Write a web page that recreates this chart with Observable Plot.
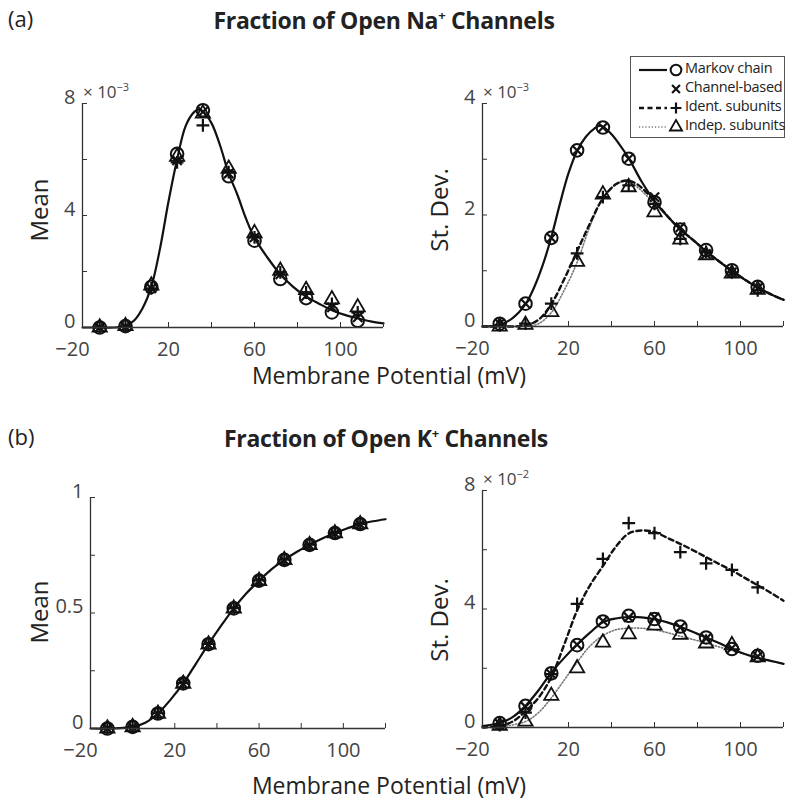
<!DOCTYPE html>
<html><head><meta charset="utf-8">
<script src="https://cdn.jsdelivr.net/npm/d3@7"></script>
<script src="https://cdn.jsdelivr.net/npm/@observablehq/plot@0.6"></script>
<style>
body{margin:0;background:#fff;}
#root{position:relative;width:800px;height:805px;background:#fff;font-family:"Open Sans","DejaVu Sans",sans-serif;color:#222;overflow:hidden;}
.t{position:absolute;white-space:nowrap;}
.panel{position:absolute;}
.title{font-weight:700;font-size:23px;letter-spacing:-0.3px;}
.lbl{font-size:23px;color:#222;}
.exp{font-size:17px;color:#444;}
.ylab{font-size:24px;transform:translate(-50%,-50%) rotate(-90deg);}
.panel svg text{font-size:20px;}
</style></head>
<body><div id="root">
<div class="t" style="left:8px;top:3px;font-size:22px;">(a)</div>
<div class="t title" style="left:0;width:768px;text-align:center;top:4px;">Fraction of Open Na<sup style="font-size:13px;">+</sup> Channels</div>
<div class="t" style="left:8px;top:421px;font-size:22px;">(b)</div>
<div class="t title" style="left:0;width:772px;text-align:center;top:422px;">Fraction of Open K<sup style="font-size:13px;">+</sup> Channels</div>
<div class="t lbl" style="left:0;width:778px;text-align:center;top:359px;">Membrane Potential (mV)</div>
<div class="t lbl" style="left:0;width:778px;text-align:center;top:769px;">Membrane Potential (mV)</div>
<div class="t ylab" style="left:38px;top:210px;">Mean</div>
<div class="t ylab" style="left:438px;top:210px;">St. Dev.</div>
<div class="t ylab" style="left:38px;top:612px;">Mean</div>
<div class="t ylab" style="left:438px;top:620px;">St. Dev.</div>
<div class="t exp" style="left:83px;top:79px;">× 10<sup style="font-size:11px;">−3</sup></div>
<div class="t exp" style="left:483px;top:79px;">× 10<sup style="font-size:11px;">−3</sup></div>
<div class="t exp" style="left:483px;top:466px;">× 10<sup style="font-size:11px;">−2</sup></div>
<div id="p1" class="panel" style="left:0;top:60px;"></div>
<div id="p2" class="panel" style="left:400px;top:60px;"></div>
<div id="p3" class="panel" style="left:0;top:470px;"></div>
<div id="p4" class="panel" style="left:400px;top:470px;"></div>
<div id="legend" class="t" style="left:630px;top:56px;width:153px;height:80px;border:1px solid #555;background:#fff;"></div>
</div>
<script>
// ---------- data ----------
const xPts = [-12, 0, 12, 24, 36, 48, 60, 72, 84, 96, 108];

// (a) Na mean (x 1e-3)
const naMeanMarkov  = [0, 0.05, 1.45, 6.2, 7.76, 5.4, 3.1, 1.73, 1.05, 0.54, 0.24];
const naMeanChannel = [0, 0.03, 1.4, 5.97, 7.7, 5.5, 3.22, 1.9, 1.13, 0.72, 0.36];
const naMeanIdent   = [0, 0.03, 1.4, 5.9, 7.22, 5.55, 3.22, 1.97, 1.25, 0.84, 0.54];
const naMeanIndep   = [0, 0.05, 1.5, 6.1, 7.64, 5.67, 3.37, 2.03, 1.34, 1.01, 0.72];
const naMeanCurveX  = [-20, -12, -5, 0, 4, 8, 12, 16, 20, 24, 28, 32, 34, 36, 40, 44, 48, 52, 56, 60, 66, 72, 78, 84, 90, 96, 102, 108, 114, 120];
const naMeanCurveY  = [0, 0, 0, 0.05, 0.25, 0.7, 1.45, 2.8, 4.5, 6.0, 7.2, 7.7, 7.78, 7.72, 7.3, 6.5, 5.5, 4.75, 3.9, 3.2, 2.5, 1.9, 1.45, 1.1, 0.85, 0.62, 0.45, 0.33, 0.22, 0.15];

// (a) Na st. dev. (x 1e-3)
const naSdMarkov  = [0.05, 0.41, 1.59, 3.16, 3.57, 3.01, 2.23, 1.74, 1.37, 1.01, 0.71];
const naSdChannel = [0.05, 0.41, 1.59, 3.16, 3.57, 3.01, 2.32, 1.78, 1.30, 0.97, 0.69];
const naSdIdent   = [0.02, 0.05, 0.41, 1.31, 2.32, 2.53, 2.2, 1.57, 1.34, 0.97, 0.65];
const naSdIndep   = [0, 0.03, 0.26, 1.16, 2.37, 2.5, 2.05, 1.56, 1.28, 0.95, 0.66];
const naSdSolidX  = [-20, -12, -6, 0, 4, 8, 12, 16, 20, 24, 28, 32, 35, 40, 44, 48, 54, 60, 66, 72, 78, 84, 90, 96, 102, 108, 114, 120];
const naSdSolidY  = [0, 0.03, 0.15, 0.4, 0.7, 1.1, 1.6, 2.2, 2.75, 3.15, 3.4, 3.55, 3.6, 3.45, 3.25, 3.02, 2.6, 2.25, 1.98, 1.74, 1.55, 1.35, 1.17, 1.0, 0.84, 0.7, 0.58, 0.48];
const naSdDashX   = [-20, -12, 0, 6, 12, 18, 24, 30, 36, 42, 47, 52, 60, 66, 72, 78, 84, 90, 96, 102, 108, 114, 120];
const naSdDashY   = [0, 0, 0.02, 0.12, 0.4, 0.85, 1.35, 1.85, 2.3, 2.55, 2.62, 2.55, 2.25, 1.98, 1.74, 1.55, 1.35, 1.17, 1.0, 0.84, 0.7, 0.58, 0.48];
const naSdDotX    = [-12, 0, 6, 12, 18, 24, 30, 36, 42, 47, 52, 60, 66, 72, 78, 84, 90, 96, 102, 108, 114, 120];
const naSdDotY    = [0, 0.01, 0.05, 0.25, 0.65, 1.15, 1.8, 2.3, 2.55, 2.6, 2.5, 2.2, 1.98, 1.74, 1.55, 1.35, 1.17, 1.0, 0.84, 0.7, 0.58, 0.48];

// (b) K mean
const kMeanMarkov  = [0, 0.007, 0.065, 0.195, 0.365, 0.52, 0.64, 0.73, 0.795, 0.846, 0.885];
const kMeanChannel = [0, 0.006, 0.063, 0.193, 0.363, 0.518, 0.638, 0.728, 0.793, 0.845, 0.884];
const kMeanIdent   = [0, 0.007, 0.066, 0.196, 0.366, 0.521, 0.641, 0.731, 0.796, 0.847, 0.886];
const kMeanIndep   = [0, 0.006, 0.064, 0.194, 0.364, 0.519, 0.639, 0.729, 0.794, 0.845, 0.884];
const kMeanCurveX  = [-20, -12, -6, 0, 6, 12, 18, 24, 30, 36, 42, 48, 54, 60, 66, 72, 78, 84, 90, 96, 102, 108, 114, 120];
const kMeanCurveY  = [0, 0, 0.002, 0.007, 0.025, 0.065, 0.125, 0.195, 0.28, 0.365, 0.445, 0.52, 0.585, 0.64, 0.69, 0.73, 0.765, 0.795, 0.822, 0.846, 0.867, 0.885, 0.897, 0.906];

// (b) K st. dev. (x 1e-2)
const kSdMarkov  = [0.15, 0.73, 1.83, 2.78, 3.58, 3.77, 3.66, 3.41, 3.04, 2.65, 2.42];
const kSdChannel = [0.12, 0.7, 1.8, 2.8, 3.6, 3.72, 3.72, 3.38, 3.0, 2.68, 2.4];
const kSdIdent   = [0.08, 0.5, 1.8, 4.17, 5.69, 6.9, 6.56, 5.92, 5.54, 5.32, 4.73];
const kSdIndep   = [0.06, 0.2, 1.07, 2.0, 2.87, 3.15, 3.44, 3.13, 2.84, 2.78, 2.37];
const kSdSolidX  = [-20, -12, -6, 0, 6, 12, 18, 24, 30, 36, 42, 48, 54, 60, 66, 72, 78, 84, 90, 96, 102, 108, 114, 120];
const kSdSolidY  = [0.05, 0.15, 0.35, 0.73, 1.25, 1.85, 2.35, 2.8, 3.2, 3.55, 3.68, 3.73, 3.72, 3.66, 3.55, 3.4, 3.22, 3.04, 2.85, 2.65, 2.48, 2.35, 2.25, 2.15];
const kSdDashY   = [0, 0.05, 0.2, 0.55, 1.0, 1.7, 2.8, 3.95, 4.8, 5.45, 6.1, 6.55, 6.65, 6.6, 6.4, 6.2, 5.98, 5.75, 5.52, 5.3, 5.05, 4.8, 4.55, 4.28];
const kSdDotX    = [-12, 0, 6, 12, 18, 24, 30, 36, 42, 48, 54, 60, 66, 72, 78, 84, 90, 96, 102, 108, 114, 120];
const kSdDotY    = [0.02, 0.2, 0.5, 1.0, 1.6, 2.2, 2.75, 3.1, 3.3, 3.35, 3.35, 3.3, 3.2, 3.08, 2.97, 2.85, 2.72, 2.6, 2.48, 2.35, 2.25, 2.15];

const xDomain = [-20, 120];
const xMinorTicks = [20, 40, 60, 80, 100, 120];
const xLabelTicks = [20, 60, 100];
const xFirstTick = [-20];
const legendLabels = ["Markov chain", "Channel-based", "Ident. subunits", "Indep. subunits"];

// ---------- helpers ----------
const FONT = '"Open Sans","DejaVu Sans",sans-serif';
const zip = (xs, ys) => xs.map((x, i) => ({x, y: ys[i]}));
const styles = {
  solid:  {stroke: "#111", strokeWidth: 2.2},
  dashed: {stroke: "#111", strokeWidth: 2.4, strokeDasharray: "5,3.5"},
  dotted: {stroke: "#777", strokeWidth: 1.6, strokeDasharray: "1.2,2"}
};
const symbols = [
  {symbol: "circle", r: 6.3, strokeWidth: 2},
  {symbol: "times", r: 4.3, strokeWidth: 2.2},
  {symbol: "plus", r: 4.2, strokeWidth: 2.2},
  {symbol: "triangle2", r: 6.8, strokeWidth: 1.8}
];
const fmt = d => String(d).replace("-", "\u2212");

function panel(el, cfg) {
  const marks = [];
  for (const ln of cfg.lines) {
    marks.push(Plot.line(zip(ln.x, ln.y), {x: "x", y: "y", curve: "catmull-rom", ...styles[ln.style]}));
  }
  cfg.series.forEach((ys, i) => {
    const s = symbols[i];
    marks.push(Plot.dot(zip(xPts, ys), {x: "x", y: "y", symbol: s.symbol, r: s.r, stroke: "#111", fill: "none", strokeWidth: s.strokeWidth}));
  });
  const txt = {fontSize: 20, fill: "#444", label: null, tickFormat: fmt};
  marks.push(
    Plot.ruleX([xDomain[0]], {stroke: "#333", strokeWidth: 1.3}),
    Plot.ruleY([0], {stroke: "#333", strokeWidth: 1.3}),
    Plot.axisX({ticks: xMinorTicks, tickSize: 5, dy: -5, tickFormat: () => "", stroke: "#333", label: null}),
    Plot.axisY({ticks: cfg.yMinor, tickSize: 5, dx: 5, tickFormat: () => "", stroke: "#333", label: null}),
    Plot.axisX({ticks: xLabelTicks, tickSize: 0, tickPadding: 14, ...txt}),
    Plot.axisX({ticks: xFirstTick, tickSize: 0, tickPadding: 14, dx: -10, ...txt}),
    Plot.axisY({ticks: cfg.yLabels, tickSize: 0, tickPadding: 7, dy: -6, ...txt})
  );
  const p = Plot.plot({
    width: 400, height: cfg.height,
    marginLeft: cfg.mL, marginRight: cfg.mR, marginTop: cfg.mT, marginBottom: cfg.mB,
    style: {fontFamily: FONT, fontSize: "20px", background: "transparent", overflow: "visible"},
    x: {domain: xDomain},
    y: {domain: cfg.yDomain},
    marks
  });
  document.getElementById(el).appendChild(p);
}

panel("p1", {height: 310, mL: 82, mR: 17, mT: 43, mB: 43, yDomain: [0, 8], yMinor: [2, 4, 6, 8], yLabels: [0, 4, 8],
  lines: [{x: naMeanCurveX, y: naMeanCurveY, style: "solid"}],
  series: [naMeanMarkov, naMeanChannel, naMeanIdent, naMeanIndep]});

panel("p2", {height: 310, mL: 82, mR: 17, mT: 43, mB: 44, yDomain: [0, 4], yMinor: [1, 2, 3, 4], yLabels: [0, 2, 4],
  lines: [{x: naSdDotX, y: naSdDotY, style: "dotted"}, {x: naSdDashX, y: naSdDashY, style: "dashed"}, {x: naSdSolidX, y: naSdSolidY, style: "solid"}],
  series: [naSdMarkov, naSdChannel, naSdIdent, naSdIndep]});

panel("p3", {height: 300, mL: 90, mR: 15, mT: 27, mB: 42, yDomain: [0, 1], yMinor: [0.25, 0.5, 0.75, 1], yLabels: [0, 0.5, 1],
  lines: [{x: kMeanCurveX, y: kMeanCurveY, style: "solid"}],
  series: [kMeanMarkov, kMeanChannel, kMeanIdent, kMeanIndep]});

panel("p4", {height: 300, mL: 82, mR: 17, mT: 20, mB: 43, yDomain: [0, 8], yMinor: [2, 4, 6, 8], yLabels: [0, 4, 8],
  lines: [{x: kSdDotX, y: kSdDotY, style: "dotted"}, {x: kSdSolidX, y: kSdDashY, style: "dashed"}, {x: kSdSolidX, y: kSdSolidY, style: "solid"}],
  series: [kSdMarkov, kSdChannel, kSdIdent, kSdIndep]});

// ---------- legend ----------
const legendLines = ["solid", null, "dashed", "dotted"];
const symMap = {circle: d3.symbolCircle, times: d3.symbolTimes, plus: d3.symbolPlus, triangle2: d3.symbolTriangle2};
const leg = document.getElementById("legend");
legendLabels.forEach((lab, i) => {
  const row = document.createElement("div");
  row.style.cssText = "position:absolute;left:0;top:" + (3 + i * 19) + "px;height:19px;width:153px;";
  const st = legendLines[i] ? styles[legendLines[i]] : null;
  const sym = symbols[i];
  const d = d3.symbol(symMap[sym.symbol], Math.PI * (sym.r * 0.85) ** 2)();
  row.innerHTML =
    '<svg width="54" height="19" style="position:absolute;left:0;top:0;overflow:visible">' +
    (st ? '<line x1="8" x2="36" y1="10" y2="10" stroke="' + st.stroke + '" stroke-width="' + st.strokeWidth + '"' + (st.strokeDasharray ? ' stroke-dasharray="' + st.strokeDasharray + '"' : '') + '/>' : '') +
    '<path d="' + d + '" transform="translate(45,10)" fill="none" stroke="#111" stroke-width="' + sym.strokeWidth + '"/></svg>' +
    '<span style="position:absolute;left:54px;top:-2px;font-size:14.5px;color:#222;letter-spacing:-0.3px;">' + lab + '</span>';
  leg.appendChild(row);
});
</script>
</body></html>
